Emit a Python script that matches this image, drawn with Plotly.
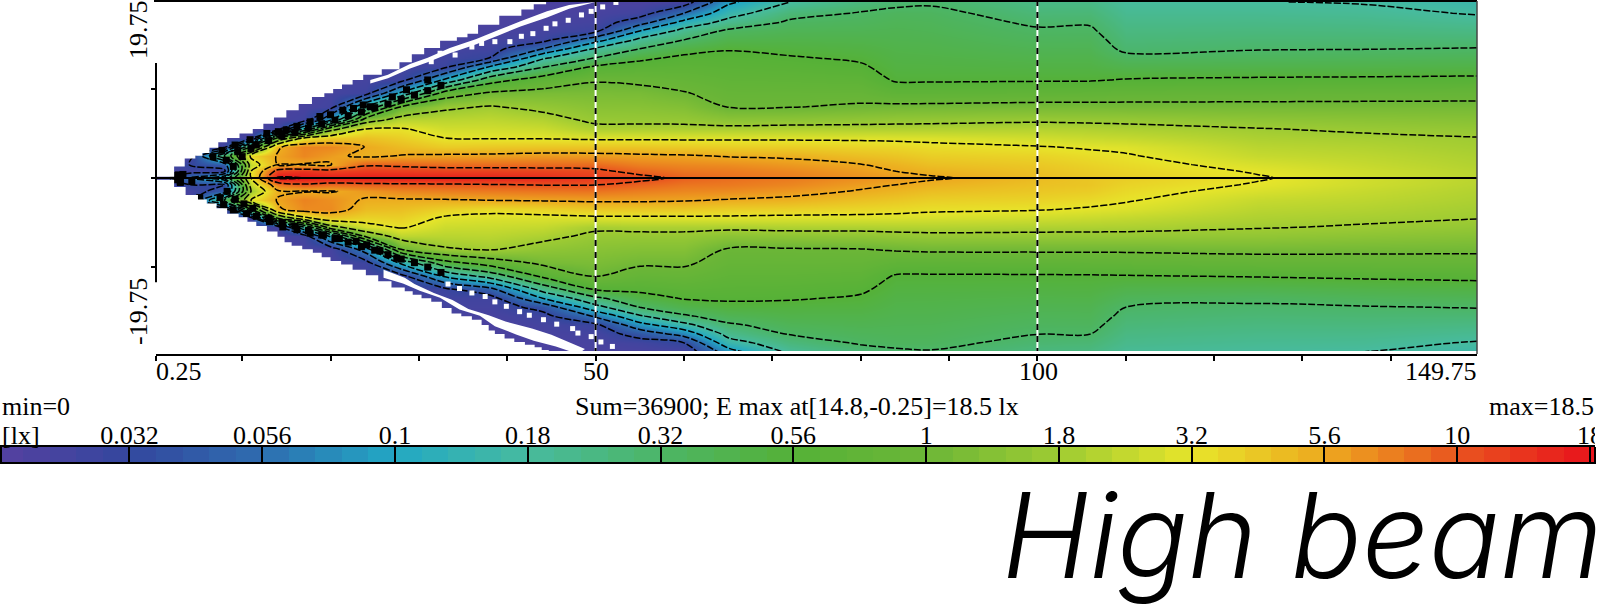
import plotly.graph_objects as go

W, H = 1613, 612
FONT = "Liberation Serif"

# distance from the beam axis of each grid row [m]
half_rows = [0, .75, 1.5, 2.5, 3.5, 4.5, 5.5, 6.5, 8, 9.5, 11, 12.5, 13.5, 14.5, 15.5, 16.5, 17.5, 18.5, 19.75]
# distance along the road of each grid column [m]
stations = [.25, 4, 8, 11, 14, 17, 20, 24, 28, 33, 38, 44, 50, 55, 60, 65, 72, 80, 84, 88, 100, 106, 110, 125, 137, 149.75]

# illuminance step (step 1 = 0.032 lx ... step 12 = 18 lx)
upper = [
    [.3,.3,.3,.3,.3,.3,.3,.3,.3,.3,.3,.3,.3,.3,.3,.3,.3,.3,.3],
    [2,.6,1,.3,.3,.3,.3,.3,.3,.3,.3,.3,.3,.3,.3,.3,.3,.3,.3],
    [4,.8,1.5,5,.7,.4,.3,.3,.3,.3,.3,.3,.3,.3,.3,.3,.3,.3,.3],
    [9,9,8.5,9.2,6,.6,.4,.3,.3,.3,.3,.3,.3,.3,.3,.3,.3,.3,.3],
    [12.1,11.3,10,10.05,9.9,7,.6,.4,.3,.3,.3,.3,.3,.3,.3,.3,.3,.3,.3],
    [12,11.5,9.95,10.4,10.45,9,4,.6,.4,.3,.3,.3,.3,.3,.3,.3,.3,.3,.3],
    [11.9,11.3,9.95,10.15,10.4,9.45,7.67,3,.6,.5,.4,.3,.3,.3,.3,.3,.3,.3,.3],
    [11.9,11.4,10.9,9.85,9.98,9.6,9,7.57,4,.7,.5,.4,.3,.3,.3,.3,.3,.3,.3],
    [11.9,11.35,10.85,10.03,9.71,9.39,9.06,8.38,7,3.25,.7,.5,.4,.3,.3,.3,.3,.3,.3],
    [11.85,11.3,10.75,10.1,9.44,9,8.7,8.4,7.85,6.5,3.2,.8,.6,.5,.4,.3,.3,.3,.3],
    [11.8,11.3,10.75,10.12,9.5,8.95,8.69,8.44,8.05,7.13,5.6,3,1,.6,.5,.4,.3,.3,.3],
    [11.65,11.25,10.75,10.2,9.53,8.94,8.61,8.29,7.8,7.28,6.46,4.9,3.83,2,.7,.5,.4,.3,.3],
    [11.4,11.15,10.76,10.18,9.53,8.87,8.2,7.86,7.57,7.28,6.94,6.1,5,4.13,2.6,.8,.5,.4,.3],
    [11.2,10.8,10.5,10.1,9.53,8.87,8.2,7.85,7.55,7.25,6.85,6.3,5.83,5,4.23,3,1.5,.6,.3],
    [10.85,10.6,10.4,10.05,9.45,8.87,8.2,7.82,7.44,7.05,6.7,6.36,6.14,5.7,5,4.33,3.27,2,.5],
    [10.7,10.55,10.35,9.95,9.4,8.87,8.2,7.65,6.97,6.74,6.5,6.28,6.14,5.96,5.55,5.16,4.3,3.6,2.8],
    [10.55,10.4,10.2,9.9,9.4,8.87,8.25,7.68,6.97,6.72,6.47,6.22,6.05,5.83,5.6,5.36,5.12,4.7,4],
    [10.3,10.15,10.02,9.65,9.3,8.87,8.25,7.75,7.1,6.72,6.4,6.08,5.9,5.73,5.56,5.39,5.22,5.05,4.6],
    [10.18,10,9.85,9.55,9.25,8.85,8.25,7.8,7.15,6.45,5.92,5.76,5.68,5.6,5.5,5.42,5.32,5.2,4.8],
    [10.08,9.85,9.65,9.4,9.15,8.83,8.26,7.82,7.17,6.45,5.92,5.75,5.66,5.56,5.47,5.37,5.28,5.17,4.9],
    [9.7,9.6,9.5,9.3,9.03,8.68,8.3,7.9,7.23,6.52,5.94,5.7,5.55,5.39,5.23,5.08,4.9,4.7,4.45],
    [9.52,9.42,9.32,9.15,8.93,8.58,8.25,7.87,7.22,6.55,5.95,5.7,5.56,5.4,5.25,5.1,4.92,4.72,4.45],
    [9.4,9.3,9.2,9.05,8.87,8.52,8.2,7.85,7.2,6.62,6.04,5.53,5.18,4.85,4.7,4.55,4.4,4.25,4.05],
    [9.05,8.95,8.8,8.55,8.38,8.2,8.03,7.7,7.2,6.66,6.1,5.59,5.24,4.96,4.78,4.6,4.42,4.24,4.02],
    [8.7,8.65,8.55,8.42,8.28,8.12,7.9,7.63,7.2,6.7,6.12,5.61,5.29,4.98,4.78,4.58,4.38,4.18,3.95],
    [8.4,8.35,8.28,8.2,8.1,8.02,7.8,7.56,7.2,6.73,6.15,5.66,5.34,5.03,4.76,4.49,4.22,3.95,3.7],
]
lower = [
    [.3,.3,.3,.3,.3,.3,.3,.3,.3,.3,.3,.3,.3,.3,.3,.3,.3,.3],
    [1,.5,.3,.3,.3,.3,.3,.3,.3,.3,.3,.3,.3,.3,.3,.3,.3,.3],
    [1,1.5,5,.5,.3,.3,.3,.3,.3,.3,.3,.3,.3,.3,.3,.3,.3,.3],
    [8.5,8,9,6,.6,.4,.3,.3,.3,.3,.3,.3,.3,.3,.3,.3,.3,.3],
    [10.5,9.9,10.05,9.9,7,.6,.4,.3,.3,.3,.3,.3,.3,.3,.3,.3,.3,.3],
    [10.9,9.95,10.45,10.35,8.8,4,.6,.4,.3,.3,.3,.3,.3,.3,.3,.3,.3,.3],
    [10.7,9.95,10.3,10.35,9.5,7.7,3.2,.5,.4,.3,.3,.3,.3,.3,.3,.3,.3,.3],
    [10.8,10.2,9.92,9.7,9.3,8.75,7.3,2.5,.7,.5,.4,.3,.3,.3,.3,.3,.3,.3],
    [10.85,10.4,9.92,9.64,9.36,9.08,8.42,7,3.25,.7,.5,.4,.3,.3,.3,.3,.3,.3],
    [10.9,10.5,9.94,9.35,8.9,8.63,8.37,7.93,5.7,3.2,.8,.6,.5,.4,.3,.3,.3,.3],
    [10.97,10.55,10,9.17,8.83,8.6,8.39,8.07,6.5,4.4,1.67,.6,.5,.4,.3,.3,.3,.3],
    [11.03,10.61,10.05,9.31,8.82,8.52,8.21,7.72,7.2,6.18,4.37,3,1.3,.7,.5,.4,.3,.3],
    [11.02,10.63,10.1,9.5,8.86,8.14,7.85,7.57,7.3,7.02,6.07,4.8,3.67,2.14,.8,.5,.4,.3],
    [10.8,10.5,10.1,9.5,8.87,8.2,7.83,7.48,7.12,6.67,6.17,5.67,5,3.88,2.63,1.38,.6,.3],
    [10.6,10.4,10.05,9.5,8.87,8.2,7.83,7.48,7.12,6.73,6.32,6.05,5.53,4.89,3.71,2.38,1,.3],
    [10.55,10.35,9.95,9.4,8.87,8.2,7.62,6.94,6.71,6.48,6.25,6.09,5.82,5.36,4.88,4.3,3.6,2.3],
    [10.4,10.2,9.85,9.35,8.83,8.25,7.67,6.95,6.71,6.47,6.22,6.06,5.79,5.58,5.32,5.05,4.6,4],
    [10.12,9.95,9.6,9.25,8.83,8.25,7.7,6.98,6.69,6.39,6.1,5.92,5.75,5.58,5.42,5.25,5.08,4.6],
    [10,9.8,9.5,9.2,8.8,8.28,7.78,7.08,6.45,5.94,5.77,5.66,5.57,5.48,5.38,5.29,5.18,4.8],
    [9.85,9.65,9.37,9.12,8.76,8.3,7.83,7.14,6.43,5.93,5.76,5.65,5.56,5.47,5.37,5.28,5.17,4.9],
    [9.6,9.5,9.3,9.05,8.67,8.25,7.82,7.14,6.48,5.94,5.73,5.59,5.44,5.3,5.16,5.01,4.8,4.5],
    [9.52,9.42,9.2,8.93,8.58,8.22,7.82,7.14,6.5,5.95,5.75,5.6,5.45,5.32,5.18,5,4.75,4.45],
    [9.3,9.2,9.05,8.84,8.5,8.2,7.82,7.14,6.54,5.97,5.55,5.28,5,4.83,4.67,4.5,4.34,4.1],
    [8.95,8.8,8.55,8.38,8.22,8.05,7.75,7.21,6.64,6.04,5.5,5.14,4.9,4.73,4.56,4.39,4.22,4],
    [8.65,8.55,8.42,8.28,8.12,7.94,7.64,7.18,6.67,6.11,5.6,5.27,4.96,4.77,4.58,4.38,4.19,3.95],
    [8.35,8.28,8.2,8.1,8.02,7.8,7.54,7.15,6.7,6.17,5.68,5.35,5.03,4.76,4.49,4.22,3.95,3.7],
]

# outer limit of the lit wedge
edge_top_x = [.25,2.3,3.5,4.7,5.5,6.3,7.3,8.3,9.7,11.2,12.4,13.6,15,16.4,17.9,19.3,20.3,21.3,22.5,23.7,25.8,27.8,29.2,30.6,32.4,34.3,35.5,36.7,39.1,41.6,43,44.4,46]
edge_top_y = [.1,.15,1.3,2.2,2.5,2.8,3.4,4,4.5,5,5.5,6.1,6.8,7.6,8.3,9.1,9.5,10,10.5,11,11.6,12.2,13,13.9,14.6,15.4,15.8,16.2,17.2,18.2,18.9,19.5,20]
edge_bot_x = [.25,2.3,3.6,5,6,7.1,8.3,9.6,10.6,11.6,12.8,14,14.8,15.6,16.8,18,19,20,21.2,22.5,24,25.4,26.9,28.4,29.3,30.3,31.4,32.6,33.7,34.8,36,37.1,37.9,38.6,39.7,40.8,42,43.1,43.9,44.7,47]
edge_bot_y = [-.1,-.2,-1,-1.9,-2.4,-2.85,-3.4,-4,-4.4,-4.9,-5.4,-6,-6.6,-7.2,-7.6,-8,-8.4,-8.9,-9.3,-9.7,-10.3,-10.9,-11.6,-12.3,-12.7,-13.1,-13.5,-13.9,-14.6,-15.2,-15.5,-15.9,-16.5,-17.1,-17.5,-18,-18.4,-18.7,-19,-19.3,-20]

# white gaps inside the purple fringe
gap_top_x = [24.5, 26.5, 29, 31, 33.5, 36.5, 39, 41.5, 44.5, 47, 50, 47, 44.5, 41.5, 39, 36.5, 33.5, 31, 29, 26.5, 24.5]
gap_top_y = [11, 11.6, 12.8, 13.5, 14.6, 15.6, 16.6, 17.6, 18.7, 19.4, 19.75, 19, 18, 17, 16, 15, 14, 13, 12.3, 11.2, 10.6]
gap_bot_x = [26, 28.4, 29.5, 31.7, 33.8, 35.6, 37.9, 39.8, 42.8, 45, 48.8, 48, 45.5, 43, 41, 38.6, 36.9, 34.6, 32.4, 30.1, 28.2, 26]
gap_bot_y = [-10.3, -11.2, -11.9, -12.9, -13.7, -14.7, -15.4, -16.1, -16.9, -17.6, -19.2, -19.75, -18.9, -18.25, -17.55, -16.65, -15.45, -14.75, -13.45, -12.65, -11.85, -11.2]
speck_x = [31.4, 32.4, 34.1, 36, 37.1, 38.6, 40.3, 41.6, 42.9, 44.4, 45.4, 46.9, 48.4, 49.5, 50.8, 52.3,
           33.3, 34.6, 36, 37.5, 38.6, 39.9, 41.4, 42.5, 44.1, 45.6, 47.4, 48, 49.5, 50.6, 51.9]
speck_y = [13.05, 14, 13.8, 14.7, 15.1, 15.3, 15.3, 15.9, 16.2, 16.8, 17.3, 17.7, 18.3, 18.7, 19.2, 19.7,
           -11.9, -12.4, -12.9, -13.3, -13.9, -14.4, -15, -15.4, -15.9, -16.4, -16.9, -17.4, -17.8, -18.4, -18.9]

# dark clusters where the contour lines crowd together near the apex
clutter_x = [2.7,3,3.3,2.5,2.8,6.7,7.7,9.2,9.5,10.9,11.6,12.8,14.1,15,16.2,17.7,18.8,20,21.4,22.6,23.7,24.5,27,28.6,31,
             3,4.3,5.2,7.5,7.9,9,10.5,11.6,13.1,14.6,16.2,17.7,19.2,21,22.9,24.1,25.6,27.5,
             13,14.5,16,17.5,19,20.5,22,23.5,25,26.5,28,29.5,31,32.5,
             13,14.5,16,17.5,19,20.5,22,23.5,25,26.5,28,29.5,31,32.5,
             8.2,9,10,11,8.3,9.2,10.2,11.2]
clutter_y = [.3,-.5,.4,-.2,.34,2.4,3.1,3.7,2.95,4.3,3.7,5,5.2,5.4,5.8,6.3,6.9,7.1,7.6,7.8,8.2,8,9.1,9.9,11,
             -.4,-.4,-2.2,-2.2,-3,-3.6,-4,-4.3,-4.9,-5.5,-5.8,-6.2,-6.4,-6.8,-7.1,-7.5,-8.2,-9,
             4.2,4.7,5.1,5.6,6.1,6.5,7,7.4,7.9,8.3,8.8,9.3,9.8,10.4,
             -4.5,-5,-5.4,-5.9,-6.4,-6.8,-7.2,-7.7,-8.1,-8.6,-9.1,-9.5,-10,-10.6,
             2,1.3,2.4,3.3,-1.5,-2.4,-2.9,-3.4]

scale_labels = ["0.032", "0.056", "0.1", "0.18", "0.32", "0.56", "1", "1.8", "3.2", "5.6", "10", "18"]
scale_steps = [1, 2, 3, 4, 5, 6, 7, 8, 9, 10, 11, 12]
STEP_MIN, STEP_MAX = .04, 12.03
step_colors = ["#5540a0", "#34479e", "#2e6db0", "#22a8c4", "#47bb9f", "#4cb566", "#55b137",
               "#6cb637", "#9ecb33", "#e7e52a", "#eda91f", "#e9541f", "#e8141c"]

colorscale = [[i / STEP_MAX, c] for i, c in enumerate(step_colors)] + [[1, "#e8141c"]]

y_rows = [-v for v in half_rows[:0:-1]] + half_rows
z = []
for r in range(len(half_rows) - 1, 0, -1):
    z.append([col[r - 1] for col in lower])
for r in range(len(half_rows)):
    z.append([col[r] for col in upper])

bar_x = [i / 5 + .1 for i in range(61)]
bar_z = [[min(int(v * 5) / 5 + .1, STEP_MAX) for v in bar_x]]

fig = go.Figure()
common = dict(x=stations, y=y_rows, z=z, xaxis="x", yaxis="y", showscale=False, hoverinfo="skip")
fig.add_trace(go.Heatmap(colorscale=colorscale, zmin=0, zmax=STEP_MAX, zsmooth="best", **common))
fig.add_trace(go.Contour(contours=dict(coloring="none", start=1, end=12, size=1),
                         line=dict(color="black", width=1.5, dash="7px,2px"), **common))

def polygon(xs, ys, shape="vh", color="white"):
    fig.add_trace(go.Scatter(x=xs, y=ys, mode="lines", fill="toself", fillcolor=color,
                             line=dict(width=0, shape=shape), hoverinfo="skip", showlegend=False))

fig.add_trace(go.Scatter(x=clutter_x, y=clutter_y, mode="markers", hoverinfo="skip", showlegend=False,
                         marker=dict(symbol="square", size=7, color="black", line=dict(width=0))))
polygon(edge_top_x + [.25], edge_top_y + [20])
polygon(edge_bot_x + [.25], edge_bot_y + [-20])
polygon(gap_top_x, gap_top_y, "linear")
polygon(gap_bot_x, gap_bot_y, "linear")
fig.add_trace(go.Scatter(x=speck_x, y=speck_y, mode="markers", hoverinfo="skip", showlegend=False,
                         marker=dict(symbol="square", size=5, color="white", line=dict(width=0))))

for mark in (50, 100):
    fig.add_trace(go.Scatter(x=[mark, mark], y=[-19.75, 19.75], mode="lines", hoverinfo="skip", showlegend=False,
                             line=dict(color="white", width=2)))
    fig.add_trace(go.Scatter(x=[mark, mark], y=[-19.75, 19.75], mode="lines", hoverinfo="skip", showlegend=False,
                             line=dict(color="black", width=2, dash="6px,6px")))
fig.add_trace(go.Scatter(x=[.25, 149.75], y=[0, 0], mode="lines", hoverinfo="skip", showlegend=False,
                         line=dict(color="black", width=2.2)))

fig.add_trace(go.Heatmap(x=bar_x, y=[0], z=bar_z, xaxis="x2", yaxis="y2", colorscale=colorscale,
                         zmin=0, zmax=STEP_MAX, showscale=False, hoverinfo="skip"))

text_font = dict(family=FONT, size=26, color="black")

def note(px, py, text, anchor="center", angle=0, font=text_font):
    fig.add_annotation(x=px / W, y=1 - py / H, xref="paper", yref="paper", text=text, showarrow=False,
                       xanchor=anchor, yanchor="middle", textangle=angle, font=font,
                       borderpad=0, borderwidth=0)

note(156, 372, "0.25", "left")
note(596, 372, "50")
note(1038, 372, "100")
note(1477, 372, "149.75", "right")
note(138, 30, "19.75", angle=-90)
note(138, 312, "-19.75", angle=-90)
note(2, 406, "min=0", "left")
note(797, 406, "Sum=36900; E max at[14.8,-0.25]=18.5 lx")
note(1594, 406, "max=18.5", "right")
note(2, 435, "[lx]", "left")
note(1002, 535, "High beam", "left",
     font=dict(family="Inter", size=118, color="black", style="italic", weight=300))

fig.update_layout(
    width=W, height=H, margin=dict(l=0, r=0, t=0, b=0), autosize=False,
    paper_bgcolor="white", plot_bgcolor="white", showlegend=False,
    xaxis=dict(domain=[156 / W, 1477 / W], range=[.25, 149.75], showgrid=False, zeroline=False, automargin=False,
               showline=True, linecolor="black", linewidth=2, ticks="outside", ticklen=5, tickwidth=1.5,
               tickcolor="black", tickvals=[.25, 10, 20, 30, 40, 50, 60, 70, 80, 90, 100, 110, 120, 130, 140],
               showticklabels=False, anchor="y"),
    yaxis=dict(domain=[(H - 354) / H, (H - 2) / H], range=[-19.75, 19.75], showgrid=False, zeroline=False,
               automargin=False,
               showline=False, ticks="outside", ticklen=4, tickwidth=1.5, tickcolor="black",
               tickvals=[-10, 0, 10], showticklabels=False, anchor="x"),
    xaxis2=dict(domain=[2 / W, 1594 / W], range=[STEP_MIN, STEP_MAX], showgrid=False, zeroline=False, anchor="y2",
                automargin=False,
                side="top", showline=True, mirror=True, linecolor="black", linewidth=2,
                ticks="inside", ticklen=15, tickwidth=2, tickcolor="black", ticklabelstandoff=-9,
                tickvals=scale_steps, ticktext=scale_labels, tickfont=dict(family=FONT, size=26, color="black")),
    yaxis2=dict(domain=[(H - 462) / H, (H - 447) / H], range=[-.5, .5], showgrid=False, zeroline=False,
                automargin=False,
                anchor="x2", showticklabels=False, ticks="", showline=True, mirror=True,
                linecolor="black", linewidth=2),
    shapes=[
        dict(type="rect", xref="x", yref="y", x0=.25, x1=149.75, y0=-19.75, y1=-19.4, fillcolor="white",
             line=dict(width=0), layer="above"),
        dict(type="line", xref="paper", yref="y", x0=156 / W, x1=156 / W, y0=-11.7, y1=12.9,
             line=dict(color="black", width=2), layer="above"),
        dict(type="line", xref="paper", yref="paper", x0=154 / W, x1=1477 / W, y0=1 - 1 / H, y1=1 - 1 / H,
             line=dict(color="black", width=2), layer="above"),
        dict(type="line", xref="paper", yref="paper", x0=1477 / W, x1=1477 / W, y0=1 - 1 / H, y1=1 - 354 / H,
             line=dict(color="#444444", width=1.5), layer="above"),
        dict(type="rect", xref="paper", yref="paper", x0=1595 / W, x1=1, y0=1 - 425 / H, y1=1 - 447 / H,
             fillcolor="white", line=dict(width=0), layer="above"),
    ],
)

fig.write_html("out.html", config=dict(displayModeBar=False),
               post_script="document.body.style.margin='0';document.documentElement.style.overflow='hidden';")
